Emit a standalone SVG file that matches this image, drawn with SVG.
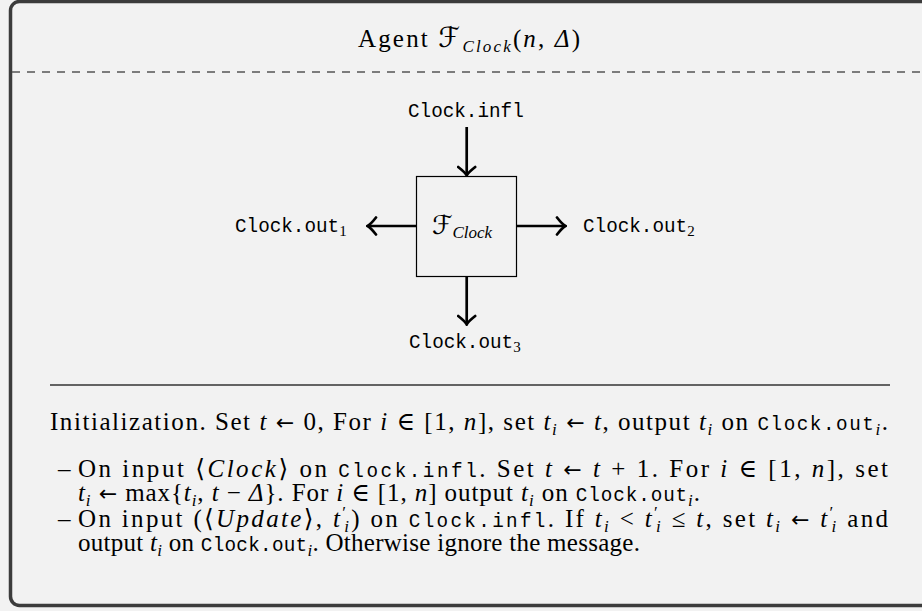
<svg xmlns="http://www.w3.org/2000/svg" width="922" height="611" viewBox="0 0 922 611">
<defs>
<style>
.serif{font-family:"Liberation Serif","DejaVu Serif",serif;font-size:25px;fill:#000}
.it{font-style:italic}
.sub{font-style:italic;font-size:17px}
.mono{font-family:"Liberation Mono","DejaVu Sans Mono",monospace;font-size:19.3px}
.cal{font-family:"DejaVu Serif","DejaVu Sans",serif;font-style:italic}
.ar{font-family:"DejaVu Sans",sans-serif;font-size:22px}
.conn{stroke:#000;stroke-width:2.7;fill:none}
</style>
<marker id="ah" viewBox="-10 -10 12 20" markerWidth="12" markerHeight="20" refX="0" refY="0" orient="auto" markerUnits="userSpaceOnUse">
<path d="M-8,-8.5 Q-2.5,-1.5 0.5,0 Q-2.5,1.5 -8,8.5" stroke="#000" stroke-width="2.7" fill="none" stroke-linecap="round"/>
</marker>
</defs>
<rect x="0" y="0" width="922" height="611" fill="#f2f2f2"/>
<rect id="frame" x="10.5" y="1.5" width="960" height="604" rx="9" fill="#f2f2f2" stroke="#3c3c3c" stroke-width="3.5"/>
<line x1="12" y1="72" x2="922" y2="72" stroke="#555" stroke-width="1.4" stroke-dasharray="8,7"/>
<text class="serif" x="358" y="47" font-size="27" textLength="222" lengthAdjust="spacing">Agent <tspan class="cal" font-size="28">ℱ</tspan><tspan class="sub" font-size="19" dy="5">Clock</tspan><tspan dy="-5">(</tspan><tspan class="it">n</tspan>, <tspan class="it">Δ</tspan>)</text>

<g id="connectors">
<line class="conn" x1="466.7" y1="127" x2="466.7" y2="175" marker-end="url(#ah)"/>
<line class="conn" x1="416" y1="226" x2="368" y2="226" marker-end="url(#ah)"/>
<line class="conn" x1="516" y1="226" x2="565" y2="226" marker-end="url(#ah)"/>
<line class="conn" x1="466.7" y1="276" x2="466.7" y2="324" marker-end="url(#ah)"/>
</g>

<g id="node-fclock">
<rect x="416.5" y="176.5" width="100" height="100" fill="none" stroke="#000" stroke-width="1.2"/>
<text class="serif" x="432" y="234"><tspan class="cal" font-size="26">ℱ</tspan><tspan class="sub" font-size="19" dy="4">Clock</tspan></text>
</g>
<g id="node-infl">
<text class="mono" x="408" y="117">Clock.infl</text>
</g>
<g id="node-out1">
<text class="mono" x="235" y="232">Clock.out<tspan font-family="Liberation Serif" font-size="15" dy="4">1</tspan></text>
</g>
<g id="node-out2">
<text class="mono" x="583" y="232">Clock.out<tspan font-family="Liberation Serif" font-size="15" dy="4">2</tspan></text>
</g>
<g id="node-out3">
<text class="mono" x="409" y="348">Clock.out<tspan font-family="Liberation Serif" font-size="15" dy="4">3</tspan></text>
</g>

<line x1="50" y1="385" x2="890" y2="385" stroke="#333" stroke-width="1.3"/>

<text class="serif" x="50" y="430" textLength="838" lengthAdjust="spacing">Initialization. Set <tspan class="it">t</tspan> <tspan class="ar">←</tspan> 0, For <tspan class="it">i</tspan> ∈ [1, <tspan class="it">n</tspan>], set <tspan class="it">t</tspan><tspan class="sub" dy="5">i</tspan><tspan dy="-5"> </tspan><tspan class="ar">←</tspan> <tspan class="it">t</tspan>, output <tspan class="it">t</tspan><tspan class="sub" dy="5">i</tspan><tspan dy="-5"> on </tspan><tspan class="mono">Clock.out</tspan><tspan class="sub" dy="5">i</tspan><tspan dy="-5">.</tspan></text>

<text class="serif" x="58" y="477">–</text>
<text class="serif" x="78" y="477" textLength="810" lengthAdjust="spacing">On input ⟨<tspan class="it">Clock</tspan>⟩ on <tspan class="mono">Clock.infl</tspan>. Set <tspan class="it">t</tspan> <tspan class="ar">←</tspan> <tspan class="it">t</tspan> + 1. For <tspan class="it">i</tspan> ∈ [1, <tspan class="it">n</tspan>], set</text>
<text class="serif" x="78" y="501" textLength="622" lengthAdjust="spacing"><tspan class="it">t</tspan><tspan class="sub" dy="5">i</tspan><tspan dy="-5"> </tspan><tspan class="ar">←</tspan> max{<tspan class="it">t</tspan><tspan class="sub" dy="5">i</tspan><tspan dy="-5">, </tspan><tspan class="it">t</tspan> − <tspan class="it">Δ</tspan>}. For <tspan class="it">i</tspan> ∈ [1, <tspan class="it">n</tspan>] output <tspan class="it">t</tspan><tspan class="sub" dy="5">i</tspan><tspan dy="-5"> on </tspan><tspan class="mono">Clock.out</tspan><tspan class="sub" dy="5">i</tspan><tspan dy="-5">.</tspan></text>

<text class="serif" x="58" y="527">–</text>
<text class="serif" x="78" y="527" textLength="810" lengthAdjust="spacing">On input (⟨<tspan class="it">Update</tspan>⟩, <tspan class="it">t</tspan><tspan font-size="17" dy="-9">′</tspan><tspan class="sub" dx="-4" dy="14">i</tspan><tspan dy="-5">) on </tspan><tspan class="mono">Clock.infl</tspan>. If <tspan class="it">t</tspan><tspan class="sub" dy="5">i</tspan><tspan dy="-5"> &lt; </tspan><tspan class="it">t</tspan><tspan font-size="17" dy="-9">′</tspan><tspan class="sub" dx="-4" dy="14">i</tspan><tspan dy="-5"> ≤ </tspan><tspan class="it">t</tspan>, set <tspan class="it">t</tspan><tspan class="sub" dy="5">i</tspan><tspan dy="-5"> </tspan><tspan class="ar">←</tspan> <tspan class="it">t</tspan><tspan font-size="17" dy="-9">′</tspan><tspan class="sub" dx="-4" dy="14">i</tspan><tspan dy="-5"> and</tspan></text>
<text class="serif" x="78" y="551" textLength="562" lengthAdjust="spacing">output <tspan class="it">t</tspan><tspan class="sub" dy="5">i</tspan><tspan dy="-5"> on </tspan><tspan class="mono">Clock.out</tspan><tspan class="sub" dy="5">i</tspan><tspan dy="-5">. Otherwise ignore the message.</tspan></text>
</svg>
